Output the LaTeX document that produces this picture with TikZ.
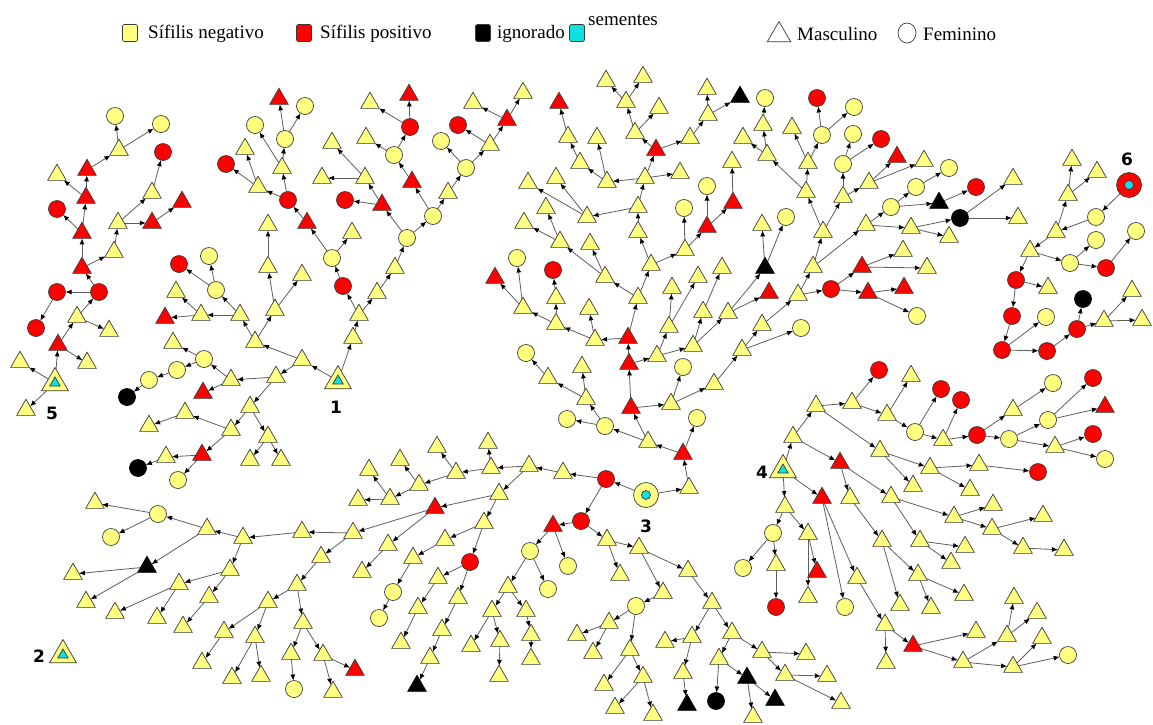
\documentclass[tikz,border=0pt]{standalone}
\usepackage{fontspec}
\setmainfont{Liberation Serif}
\newfontfamily\lblfont{DejaVu Sans}
\usetikzlibrary{shapes.geometric,arrows.meta,backgrounds}
\definecolor{ylw}{HTML}{FFFF80}
\definecolor{ndline}{HTML}{3A3A3A}
\definecolor{lnkc}{HTML}{5E5E5E}
\definecolor{cyn}{HTML}{10E0E0}
\definecolor{rd}{HTML}{FF0000}
\tikzset{
 nd/.style={draw=ndline, line width=0.7pt, inner sep=0pt, outer sep=0pt},
 tri/.style={nd, regular polygon, regular polygon sides=3, minimum size=21.5pt},
 cir/.style={nd, circle, minimum size=17pt},
 ytri/.style={tri, fill=ylw}, rtri/.style={tri, fill=rd}, btri/.style={tri, fill=black, draw=black},
 ycir/.style={cir, fill=ylw}, rcir/.style={cir, fill=rd}, bcir/.style={cir, fill=black, draw=black},
 seedtri/.style={nd, regular polygon, regular polygon sides=3, minimum size=31pt, fill=ylw},
 seedin/.style={nd, regular polygon, regular polygon sides=3, minimum size=12pt, fill=cyn},
 seedcir/.style={nd, circle, minimum size=25pt},
 seedcin/.style={nd, circle, minimum size=9pt, fill=cyn},
 lnk/.style={draw=lnkc, line width=0.8pt, -{Latex[length=6pt,width=5pt,color=black]}},
 lbl/.style={font=\lblfont\bfseries\fontsize{17}{17}\selectfont, inner sep=0pt},
 legbox/.style={draw=ndline, line width=0.7pt, rounded corners=2pt, minimum width=15pt, minimum height=17pt, inner sep=0pt},
 legtxt/.style={font=\fontsize{19}{19}\selectfont, inner sep=0pt, anchor=west},
}
\begin{document}
\begin{tikzpicture}[x=1pt,y=-1pt]
\useasboundingbox (0,0) rectangle (1153,724);
% legend
\node[legbox, fill=ylw] (k1) at (130,33) {};
\node[legtxt] (k1t) at (148,34) {Sífilis negativo};
\node[legbox, fill=rd] (k2) at (304,33) {};
\node[legtxt] (k2t) at (320,34) {Sífilis positivo};
\node[legbox, fill=black] (k3) at (483,33) {};
\node[legtxt] (k3t) at (497,34) {ignorado};
\node[legbox, fill=cyn] (k4) at (577,33) {};
\node[legtxt] (k4t) at (588,20) {sementes};
\node[nd, fill=white, regular polygon, regular polygon sides=3, minimum size=27pt] (k5) at (779,35) {};
\node[legtxt] (k5t) at (797,34) {Masculino};
\node[nd, fill=white, ellipse, minimum width=18pt, minimum height=20pt] (k6) at (907,33) {};
\node[legtxt] (k6t) at (923,34) {Feminino};
% seeds
\foreach \n/\x/\y in {e0/55/383, a0/338/381, d0/783/470, s2/63/655}{
 \node[seedtri] (\n) at (\x,\y) {};
 \node[seedin] (\n i) at (\x,\y) {};
}
\node[seedcir, fill=ylw] (c0) at (646,495) {};
\node[seedcin] (c0i) at (646,495) {};
\node[seedcir, fill=rd] (f0) at (1129,185) {};
\node[seedcin] (f0i) at (1129,185) {};
\node[lbl] (l1) at (336,407) {1};
\node[lbl] (l2) at (39,656) {2};
\node[lbl] (l3) at (646,526) {3};
\node[lbl] (l4) at (762,472) {4};
\node[lbl] (l5) at (52,413) {5};
\node[lbl] (l6) at (1127,159) {6};
% component 5
\foreach \n/\s/\x/\y in {e1/ytri/20/362, e2/ytri/26/410, e3/rtri/58/345, e4/ytri/87/363, e5/ytri/77/317, e6/ytri/109/331, e7/rcir/99/292, e8/rcir/57/292, e9/rcir/36/328, e10/rtri/82/268, e11/ytri/114/252, e12/rtri/82/233, e13/ytri/118/223, e14/rtri/152/223, e15/ytri/152/193, e16/rtri/182/202, e17/rcir/163/152, e18/rcir/57/209, e19/rtri/86/198, e20/ytri/57/175, e21/rtri/87/170, e22/ytri/119/150, e23/ycir/115/116, e24/ycir/161/124}
 {\node[\s] (\n) at (\x,\y) {};}
% component 1
\foreach \n/\s/\x/\y in {a1/ytri/353/338, a2/ytri/302/360, a3/ytri/276/377, a4/ytri/255/342, a5/ytri/275/310, a6/ytri/240/315, a7/ytri/201/315, a8/rtri/165/318, a9/ytri/176/292, a10/ycir/216/290, a11/rcir/179/264, a12/ycir/209/256, a13/ytri/231/380, a14/ytri/250/407, a15/ycir/204/359, a16/rtri/203/393, a17/ycir/177/370, a18/ytri/173/343, a19/ycir/149/380, a20/bcir/127/397, a21/ytri/231/430, a22/ytri/268/437, a23/ytri/185/413, a24/rtri/202/455, a25/ytri/149/426, a26/ytri/166/457, a27/ycir/178/480, a28/bcir/138/468, a29/ytri/250/460, a30/ytri/281/460, a31/ytri/359/315, a32/rcir/343/286, a33/ycir/332/258, a34/ytri/377/293, a35/ytri/395/268, a36/ycir/407/238, a37/ycir/433/216, a38/rtri/412/182, a39/ycir/394/155, a40/rcir/410/127, a41/ytri/366/138, a42/rtri/409/95, a43/ytri/370/103, a44/ytri/448/193, a45/ycir/466/168, a46/ytri/490/145, a47/rcir/458/125, a48/rtri/507/120, a49/ytri/523/93, a50/ytri/473/103, a51/ycir/441/141, a52/ytri/352/233, a53/rtri/307/223, a54/rcir/288/200, a55/ytri/258/187, a56/ytri/282/168, a57/ycir/285/139, a58/rtri/279/99, a59/ycir/305/106, a60/ycir/255/125, a61/rcir/226/164, a62/ytri/245/149, a63/rtri/382/205, a64/rcir/345/200, a65/ytri/365/178, a66/ytri/322/178, a67/ytri/332/143, a68/ytri/268/225, a69/ytri/268/267, a70/ytri/302/275}
 {\node[\s] (\n) at (\x,\y) {};}
% component 3
\foreach \n/\s/\x/\y in {c1/rcir/606/479, c2/ytri/689/488, c3/rtri/683/454, c4/ycir/697/418, c5/ytri/648/442, c6/ycir/605/426, c7/rtri/631/408, c8/ycir/567/419, c9/ytri/586/399, c10/ytri/548/378, c11/ytri/582/367, c12/ycir/526/353, c13/rtri/629/364, c14/ytri/671/404, c15/ycir/683/367, c16/ytri/714/384, c17/rtri/628/338, c18/ytri/657/356, c19/ytri/693/346, c20/ytri/669/327, c21/ytri/672/288, c22/ytri/698/277, c23/ytri/703/312, c24/ytri/728/313, c25/ytri/722/268, c26/ytri/595/340, c27/ytri/638/298, c28/ytri/589/309, c29/ytri/556/324, c30/ytri/556/298, c31/ytri/523/308, c32/rcir/553/270, c33/rtri/495/278, c34/ycir/517/258, c35/ytri/605/277, c36/ytri/651/265, c37/ytri/560/242, c38/ytri/590/244, c39/ytri/524/223, c40/ytri/546/208, c41/ytri/638/232, c42/ytri/685/250, c43/ycir/684/208, c44/rtri/707/227, c45/ycir/707/186, c46/rtri/733/203, c47/ytri/732/162, c48/ytri/638/207, c49/ytri/587/217, c50/ytri/528/183, c51/ytri/556/178, c52/ytri/645/178, c53/ytri/607/182, c54/ytri/680/173, c55/rtri/656/150, c56/ytri/580/163, c57/ytri/597/138, c58/ytri/568/137, c59/rtri/559/103, c60/ytri/635/133, c61/ytri/690/138, c62/ytri/626/102, c63/ytri/659/108, c64/ytri/606/81, c65/ytri/643/77, c66/ytri/708/115, c67/ytri/707/89, c68/btri/740/97, c69/btri/765/268, c70/rtri/769/293, c71/ytri/762/225, c72/ycir/786/217, c73/ytri/742/350, c74/ytri/762/325, c75/ycir/801/328, c76/ytri/798/295, c77/rcir/831/289, c78/rtri/868/293, c79/rtri/904/288, c80/ycir/917/316, c81/rtri/862/267, c82/ytri/903/251, c83/ytri/927/268, c84/ytri/813/267, c85/ytri/823/232, c86/ytri/866/225, c87/ytri/806/192, c88/ytri/843/197, c89/ytri/808/163, c90/ytri/767/155, c91/ytri/792/128, c92/ycir/822/135, c93/rcir/817/98, c94/ycir/854/107, c95/ytri/763/125, c96/ytri/743/138, c97/ycir/765/98, c98/ycir/843/164, c99/ytri/869/183, c100/ycir/853/134, c101/rcir/881/139, c102/rtri/897/157, c103/ytri/924/161, c104/ycir/891/207, c105/ytri/911/228, c106/ycir/916/187, c107/btri/939/203, c108/ycir/949/168, c109/rcir/976/187, c110/bcir/960/218, c111/ytri/949/237, c112/ytri/1013/179, c113/ytri/1018/218}
 {\node[\s] (\n) at (\x,\y) {};}
\foreach \n/\s/\x/\y in {c114/ytri/563/473, c115/ytri/529/466, c116/ytri/491/468, c117/ytri/499/494, c118/ytri/488/443, c119/ytri/456/473, c120/ytri/437/447, c121/ytri/419/485, c122/ytri/400/460, c123/ytri/390/499, c124/ytri/369/470, c125/ytri/358/500, c126/rtri/435/508, c127/ytri/484/523, c128/ytri/353/533, c129/ytri/388/545, c130/ytri/362/572, c131/ytri/445/540, c132/rcir/470/562, c133/ytri/413/558, c134/ycir/393/592, c135/ycir/379/618, c136/ytri/438/578, c137/ytri/458/598, c138/ytri/418/608, c139/ytri/401/643, c140/ytri/442/630, c141/ytri/430/658, c142/btri/417/686, c143/ytri/302/532, c144/ytri/321/557, c145/ytri/243/538, c146/ytri/207/529, c147/ytri/230/570, c148/ycir/158/514, c149/btri/147/567, c150/ytri/95/503, c151/ycir/111/537, c152/ytri/73/574, c153/ytri/86/602, c154/ytri/179/584, c155/ytri/209/597, c156/ytri/115/613, c157/ytri/157/618, c158/ytri/183/627, c159/ytri/297/585, c160/ytri/268/602, c161/ytri/303/623, c162/ytri/224/632, c163/ytri/255/637, c164/ytri/202/663, c165/ytri/232/678, c166/ytri/261/676, c167/ytri/291/654, c168/ytri/323/655, c169/ycir/294/689, c170/ytri/333/692, c171/rtri/355/670}
 {\node[\s] (\n) at (\x,\y) {};}
\foreach \n/\s/\x/\y in {c172/rcir/581/521, c173/rtri/553/526, c174/ytri/607/540, c175/ycir/530/551, c176/ycir/568/566, c177/ytri/508/587, c178/ycir/548/589, c179/ytri/492/611, c180/ytri/526/611, c181/ytri/471/646, c182/ytri/500/641, c183/ytri/499/676, c184/ytri/531/635, c185/ytri/531/659, c186/ytri/620/575, c187/ytri/639/548, c188/ytri/688/571, c189/ytri/663/593, c190/ycir/636/606, c191/ytri/609/623, c192/ytri/630/650, c193/ytri/577/635, c194/ytri/593/653, c195/ytri/604/685, c196/ytri/643/677, c197/ytri/615/708, c198/ytri/653/715, c199/ytri/712/603, c200/ytri/692/637, c201/ytri/732/633, c202/ytri/665/642, c203/ytri/683/673, c204/btri/687/705, c205/ytri/719/659, c206/ytri/762/652, c207/bcir/716/701, c208/btri/747/678, c209/ytri/753/717, c210/btri/775/700, c211/ytri/806/654, c212/ytri/785/675, c213/ytri/827/676, c214/ytri/841/703}
 {\node[\s] (\n) at (\x,\y) {};}
% component 4
\foreach \n/\s/\x/\y in {d1/ytri/793/437, d2/ytri/785/507, d3/rtri/822/498, d4/ytri/816/406, d5/rtri/840/463, d6/ytri/852/403, d7/ytri/880/451, d8/rcir/879/370, d9/ytri/887/415, d10/ytri/911/376, d11/ycir/915/432, d12/rcir/941/389, d13/ytri/943/440, d14/rcir/961/400, d15/rcir/977/435, d16/ytri/1013/410, d17/ycir/1009/439, d18/ycir/1053/383, d19/ycir/1048/420, d20/ytri/1055/447, d21/rcir/1093/378, d22/rtri/1105/407, d23/rcir/1093/434, d24/ycir/1105/459, d25/ytri/930/468, d26/ytri/913/486, d27/ytri/979/465, d28/ytri/970/490, d29/rcir/1038/472, d30/ytri/850/498, d31/ytri/891/497, d32/ytri/954/517, d33/ytri/920/541, d34/ytri/993/505, d35/ytri/992/529, d36/ytri/1043/516, d37/ytri/1023/548, d38/ytri/1064/550, d39/ytri/965/547, d40/ytri/951/563, d41/ytri/882/541, d42/ytri/918/575, d43/ytri/900/605, d44/ytri/964/595, d45/ytri/931/608, d46/ytri/857/578, d47/ycir/845/607, d48/ytri/885/625, d49/ytri/886/663, d50/rtri/913/646, d51/ytri/976/632, d52/ytri/963/662, d53/ytri/1007/636, d54/ytri/1013/667, d55/ytri/1014/598, d56/ytri/1037/613, d57/ytri/1042/638, d58/ycir/1068/655, d59/ycir/773/533, d60/ytri/808/534, d61/ycir/743/568, d62/ytri/776/565, d63/rcir/776/607, d64/rtri/817/572, d65/ytri/808/597}
 {\node[\s] (\n) at (\x,\y) {};}
% component 6
\foreach \n/\s/\x/\y in {f1/ycir/1096/217, f2/ytri/1056/232, f3/ytri/1068/195, f4/ytri/1030/251, f5/ytri/1072/160, f6/ytri/1097/172, f7/ycir/1070/263, f8/rcir/1016/280, f9/ycir/1096/240, f10/rcir/1106/268, f11/ycir/1136/231, f12/ytri/1048/288, f13/rcir/1012/316, f14/rcir/1002/350, f15/ycir/1046/317, f16/rcir/1047/351, f17/rcir/1077/329, f18/bcir/1083/299, f19/ytri/1104/321, f20/ytri/1132/291, f21/ytri/1142/320}
 {\node[\s] (\n) at (\x,\y) {};}
\begin{pgfonlayer}{background}
\fill[white] (0,0) rectangle (1153,724);
\foreach \a/\b in {e0/e1, e0/e2, e0/e3, e3/e4, e3/e5, e5/e6, e5/e7, e7/e8, e8/e9, e7/e10, e10/e11, e10/e12, e11/e13, e13/e14, e13/e15, e14/e16, e15/e17, e12/e18, e12/e19, e19/e20, e19/e21, e21/e22, e22/e23, e22/e24,
 a0/a1, a0/a2, a2/a3, a2/a4, a4/a5, a4/a6, a6/a7, a7/a8, a7/a9, a6/a10, a10/a11, a10/a12, a3/a13, a3/a14, a13/a15, a13/a16, a15/a17, a15/a18, a17/a19, a19/a20, a14/a21, a14/a22, a21/a23, a21/a24, a23/a25, a24/a26, a24/a27, a26/a28, a22/a29, a22/a30,
 a1/a31, a31/a32, a32/a33, a31/a34, a34/a35, a35/a36, a36/a37, a37/a38, a38/a39, a39/a40, a39/a41, a40/a42, a40/a43, a37/a44, a44/a45, a45/a46, a46/a47, a46/a48, a48/a49, a48/a50, a45/a51, a33/a52, a33/a53, a53/a54, a54/a55, a54/a56, a56/a57, a57/a58, a57/a59, a56/a60, a55/a61, a55/a62, a36/a63, a63/a64, a63/a65, a65/a66, a65/a67, a5/a69, a69/a68, a5/a70,
 c0/c1, c0/c2, c2/c3, c3/c4, c3/c5, c5/c6, c5/c7, c6/c8, c6/c9, c9/c10, c9/c11, c10/c12, c7/c13, c7/c14, c14/c15, c14/c16, c13/c17, c13/c18, c18/c19, c18/c20, c20/c21, c20/c22, c19/c23, c19/c24, c23/c25, c17/c26, c17/c27, c26/c28, c26/c29, c29/c30, c29/c31, c30/c32, c31/c33, c31/c34, c27/c35, c27/c36, c35/c37, c35/c38, c37/c39, c37/c40, c36/c41, c36/c42, c42/c43, c42/c44, c44/c45, c44/c46, c46/c47, c41/c48, c48/c49, c48/c52, c49/c50, c49/c51, c52/c53, c52/c54, c52/c55, c53/c56, c53/c57, c56/c58, c58/c59, c55/c60, c55/c61, c60/c62, c60/c63, c62/c64, c62/c65, c61/c66, c66/c67, c66/c68, c24/c69, c24/c70, c69/c71, c69/c72, c16/c73, c73/c74, c73/c75, c74/c76, c76/c77, c76/c84, c77/c78, c77/c81, c78/c79, c78/c80, c81/c82, c81/c83, c84/c85, c84/c86, c85/c87, c85/c88, c87/c89, c87/c90, c89/c91, c89/c92, c92/c93, c92/c94, c90/c95, c90/c96, c95/c97, c88/c98, c88/c99, c98/c100, c98/c101, c99/c102, c99/c103, c86/c104, c86/c105, c104/c106, c104/c107, c106/c108, c107/c109, c105/c110, c105/c111, c110/c112, c110/c113,
 c1/c114, c114/c115, c115/c116, c115/c117, c116/c118, c116/c119, c119/c120, c119/c121, c121/c122, c121/c123, c123/c124, c123/c125, c117/c126, c117/c127, c126/c128, c126/c129, c129/c130, c127/c131, c127/c132, c131/c133, c133/c134, c134/c135, c132/c136, c132/c137, c136/c138, c138/c139, c137/c140, c140/c141, c141/c142, c128/c143, c128/c144, c143/c145, c145/c146, c145/c147, c146/c148, c146/c149, c148/c150, c148/c151, c149/c152, c149/c153, c147/c154, c147/c155, c154/c156, c154/c157, c155/c158, c144/c159, c159/c160, c159/c161, c160/c162, c160/c163, c162/c164, c163/c165, c163/c166, c161/c167, c161/c168, c167/c169, c168/c170, c168/c171,
 c1/c172, c172/c173, c172/c174, c173/c175, c173/c176, c175/c177, c175/c178, c177/c179, c177/c180, c179/c181, c179/c182, c182/c183, c180/c184, c184/c185, c174/c186, c174/c187, c187/c188, c187/c189, c189/c190, c190/c191, c190/c192, c191/c193, c191/c194, c192/c195, c192/c196, c196/c197, c196/c198, c188/c199, c199/c200, c199/c201, c200/c202, c200/c203, c203/c204, c201/c205, c201/c206, c205/c207, c205/c208, c208/c209, c208/c210, c206/c211, c206/c212, c212/c213, c212/c214,
 d0/d1, d0/d2, d0/d3, d1/d4, d1/d5, d4/d6, d4/d7, d6/d8, d6/d9, d9/d10, d9/d11, d11/d12, d11/d13, d13/d14, d13/d15, d15/d16, d15/d17, d16/d18, d17/d19, d17/d20, d19/d21, d19/d22, d20/d23, d20/d24, d7/d25, d7/d26, d25/d27, d25/d28, d27/d29, d5/d30, d5/d31, d31/d32, d31/d33, d32/d34, d32/d35, d35/d36, d35/d37, d37/d38, d33/d39, d33/d40, d30/d41, d41/d42, d41/d43, d42/d44, d42/d45, d3/d46, d3/d47, d46/d48, d48/d49, d48/d50, d50/d51, d50/d52, d52/d53, d52/d54, d53/d55, d53/d56, d54/d57, d54/d58, d2/d59, d2/d60, d59/d61, d59/d62, d62/d63, d60/d64, d60/d65,
 f0/f1, f1/f2, f2/f3, f2/f4, f3/f5, f3/f6, f4/f7, f4/f8, f7/f9, f7/f10, f10/f11, f8/f12, f8/f13, f13/f14, f14/f15, f14/f16, f16/f17, f17/f18, f17/f19, f19/f20, f19/f21}
 {\draw[lnk] (\a) -- (\b);}
\end{pgfonlayer}
\end{tikzpicture}
\end{document}
